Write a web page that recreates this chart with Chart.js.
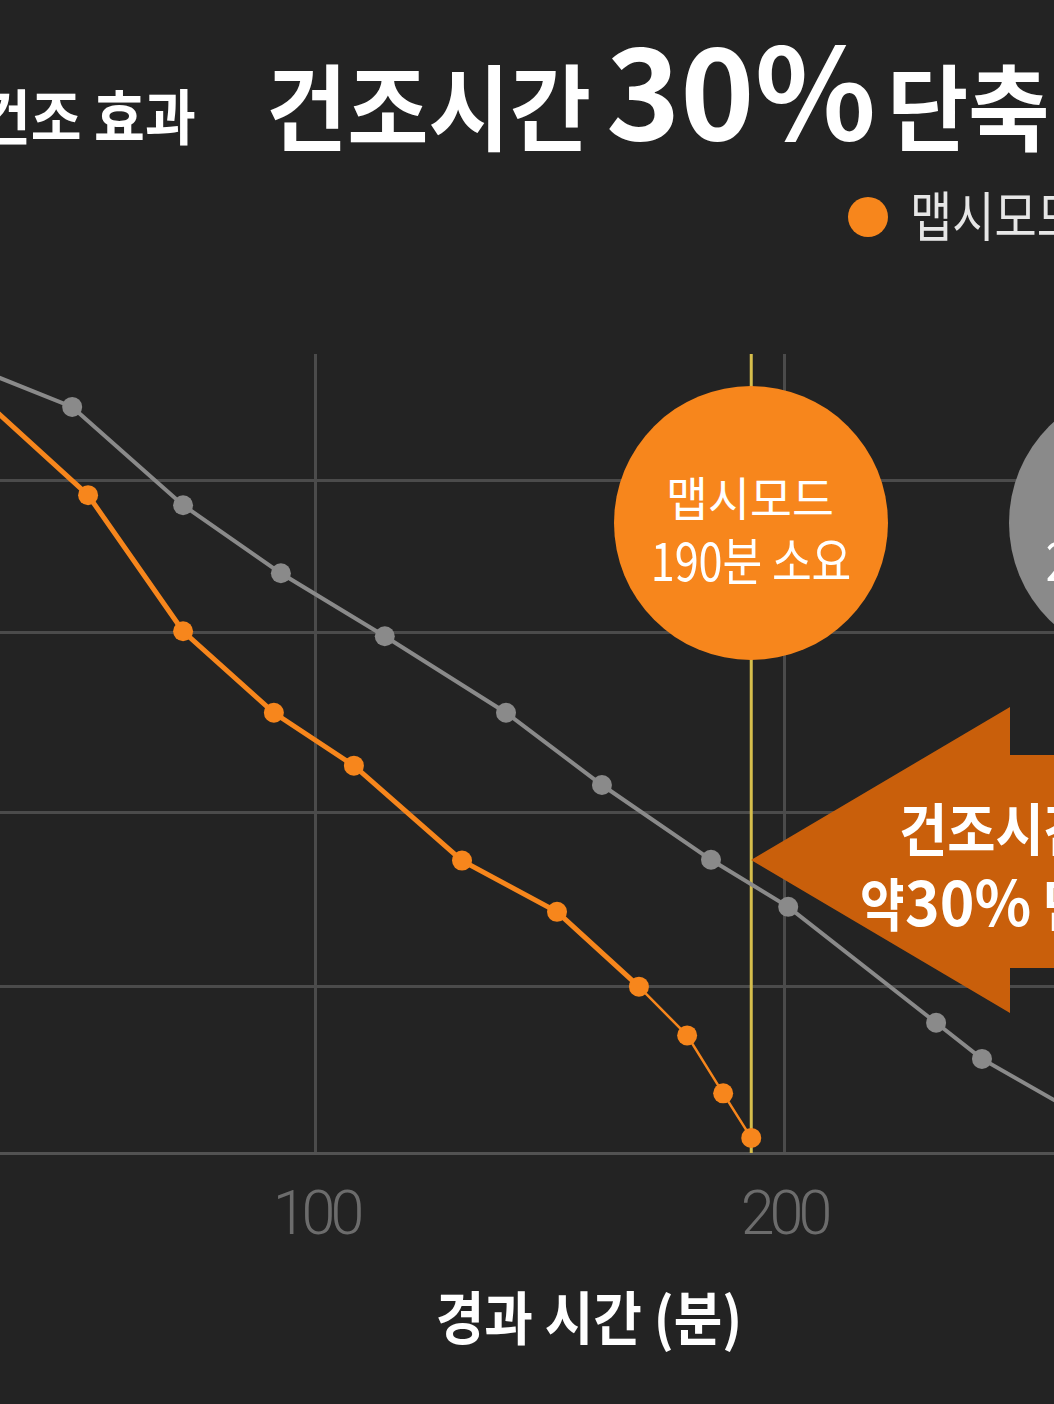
<!DOCTYPE html>
<html><head><meta charset="utf-8">
<script src="https://cdn.jsdelivr.net/npm/chart.js@4"></script>
<style>
html,body{margin:0;padding:0;background:#232323;}
body{width:1054px;height:1404px;overflow:hidden;position:relative;font-family:"Noto Sans CJK KR","Noto Sans",sans-serif;}
canvas{position:absolute;left:0;top:0;}
.t{position:absolute;white-space:nowrap;line-height:1;color:#fff;}
.shape{position:absolute;}
</style></head><body>
<canvas id="c" width="1054" height="1404"></canvas>
<script>
// ---- data ----
const seriesNames = ['맵시모드', '일반모드'];
const minutesMapsi = [30, 51.3, 71.6, 91.0, 108.1, 131.2, 151.5, 169.0, 179.3, 187.0, 193.0];
const valuesMapsi  = [89.1, 78.3, 62.1, 52.4, 46.1, 34.8, 28.7, 19.8, 14.0, 7.1, 1.8];
const minutesNormal = [30, 47.9, 71.6, 92.5, 114.7, 140.6, 161.1, 184.4, 200.9, 232.5, 242.3, 270];
const valuesNormal  = [92.8, 88.8, 77.1, 69.0, 61.5, 52.4, 43.8, 34.9, 29.3, 15.5, 11.2, 2.4];
const xTickValues = [0, 100, 200, 300];
const yTickValues = [0, 19.8, 40.5, 61.9, 80];
const xTitle = '경과 시간 (분)';

const ORANGE = '#F7861C', GREY = '#8A8A8A', GRID = '#4B4B4B';

const toPts = (xs, ys) => xs.map((x, i) => ({x, y: ys[i]}));

const yellowLine = {
  id: 'yellowLine',
  beforeDatasetsDraw(chart) {
    const {ctx, chartArea, scales} = chart;
    const x = scales.x.getPixelForValue(minutesMapsi[minutesMapsi.length - 1]);
    ctx.save();
    ctx.strokeStyle = '#D6BE4C';
    ctx.lineWidth = 3;
    ctx.beginPath();
    ctx.moveTo(x, chartArea.top);
    ctx.lineTo(x, chartArea.bottom);
    ctx.stroke();
    ctx.restore();
  }
};
const tickSpacing = {
  id: 'tickSpacing',
  beforeDraw(chart) { chart.ctx.letterSpacing = '-5px'; },
  afterDraw(chart) { chart.ctx.letterSpacing = '0px'; }
};

new Chart(document.getElementById('c'), {
  type: 'line',
  data: {
    datasets: [
      {
        label: seriesNames[0],
        data: toPts(minutesMapsi, valuesMapsi),
        borderColor: ORANGE, backgroundColor: ORANGE,
        pointBackgroundColor: ORANGE, pointBorderWidth: 0,
        pointRadius: 10, borderWidth: 5,
        segment: { borderWidth: c => c.p0DataIndex >= 7 ? 2.5 : 5 },
        order: 1
      },
      {
        label: seriesNames[1],
        data: toPts(minutesNormal, valuesNormal),
        borderColor: GREY, backgroundColor: GREY,
        pointBackgroundColor: GREY, pointBorderWidth: 0,
        pointRadius: 10, borderWidth: 4,
        order: 2
      }
    ]
  },
  options: {
    responsive: false,
    devicePixelRatio: 1,
    animation: false,
    layout: { autoPadding: false, padding: { top: 354, left: 0, right: 0, bottom: 151 } },
    plugins: { legend: { display: false }, title: { display: false }, tooltip: { enabled: false } },
    scales: {
      x: {
        type: 'linear', min: 32.48, max: 257.69,
        afterBuildTicks: a => { a.ticks = xTickValues.filter(v => v >= a.min && v <= a.max).map(v => ({value: v})); },
        afterFit: s => { s.height = 100; },
        grid: { color: GRID, lineWidth: 3, drawTicks: false },
        border: { display: true, color: '#525252', width: 3 },
        ticks: { color: '#6c6c6c', padding: 29, maxRotation: 0, autoSkip: false,
                 font: { family: 'Roboto', size: 61, weight: '300' },
                 callback: v => String(v) }
      },
      y: {
        type: 'linear', min: 0, max: 95.1,
        afterBuildTicks: a => { a.ticks = yTickValues.map(v => ({value: v})); },
        afterFit: s => { s.width = 0; },
        grid: { color: GRID, lineWidth: 3, drawTicks: false },
        border: { display: false },
        ticks: { display: false }
      }
    }
  },
  plugins: [yellowLine, tickSpacing]
});

// ---- overlay texts and shapes ----
function addText(str, o) {
  const d = document.createElement('div');
  d.className = 't';
  d.textContent = str;
  d.style.fontSize = o.size + 'px';
  d.style.fontWeight = o.weight || 700;
  d.style.color = o.color || '#fff';
  d.style.top = (o.base - 0.936 * o.size) + 'px';
  d.style.left = o.x + 'px';
  const sx = o.sx || 1;
  if (o.align === 'center') {
    d.style.transformOrigin = '50% 0';
    d.style.transform = `translateX(-50%) scaleX(${sx})`;
  } else {
    d.style.transformOrigin = '0 0';
    d.style.transform = `scaleX(${sx})`;
  }
  document.body.appendChild(d);
  return d;
}
function addShape(css) {
  const d = document.createElement('div');
  d.className = 'shape';
  Object.assign(d.style, css);
  document.body.appendChild(d);
  return d;
}

// titles
addText('건조 효과', {x: -20, base: 140, size: 60, sx: 0.92});
addText('건조시간', {x: 266, base: 144, size: 94, sx: 0.94});
addText('30%', {x: 606, base: 140, size: 126, sx: 1.0});
addText('단축', {x: 887, base: 144, size: 94, sx: 0.94});

// legend
addShape({left: '848px', top: '197px', width: '40px', height: '40px', borderRadius: '50%', background: ORANGE});
addText(seriesNames[0], {x: 910, base: 238, size: 54, weight: 400, sx: 0.85, color: '#e6e6e6'});

// end circles
addShape({left: '614px', top: '386px', width: '274px', height: '274px', borderRadius: '50%', background: ORANGE});
addText(seriesNames[0], {x: 750, base: 516, size: 47, weight: 400, sx: 0.97, align: 'center'});
addText('190분 소요', {x: 751, base: 582, size: 52, weight: 400, sx: 0.83, align: 'center'});

addShape({left: '1009px', top: '386px', width: '274px', height: '274px', borderRadius: '50%', background: GREY});
addText('270분 소요', {x: 1146, base: 582, size: 52, weight: 400, sx: 0.83, align: 'center'});

// arrow
addShape({left: '751px', top: '707px', width: '400px', height: '306px', background: '#C95F0B',
  clipPath: 'polygon(0px 153px, 259px 0px, 259px 48px, 400px 48px, 400px 261px, 259px 261px, 259px 306px)'});
addText('건조시간', {x: 899, base: 851, size: 57, sx: 0.92});
addText('약', {x: 860, base: 926, size: 57, sx: 0.85});
addText('30%', {x: 905, base: 926, size: 62, sx: 0.95});
addText('단축', {x: 1043, base: 926, size: 57, sx: 0.9});

// axis title
addText(xTitle, {x: 589, base: 1340, size: 58, sx: 0.91, align: 'center'});
</script>
</body></html>
